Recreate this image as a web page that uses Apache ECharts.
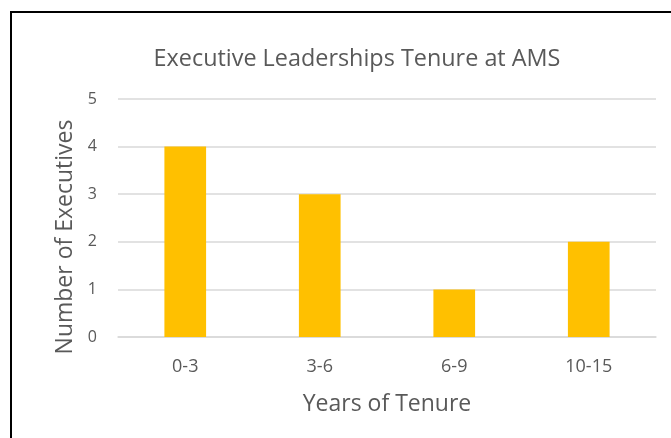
<!DOCTYPE html>
<html><head><meta charset="utf-8">
<script src="https://cdn.jsdelivr.net/npm/echarts@6/dist/echarts.min.js"></script>
<style>html,body{margin:0;padding:0;background:#fff}#c{width:671px;height:438px}</style>
</head><body><div id="c"></div>
<script>
const categories = ['0-3', '3-6', '6-9', '10-15'];
const executives = [4, 3, 1, 2];
const chart = echarts.init(document.getElementById('c'));
const font = 'Open Sans';
chart.setOption({
  animation: false,
  title: {
    text: 'Executive Leaderships Tenure at AMS',
    left: 352, top: 43, textAlign: 'center',
    textStyle: {fontFamily: font, fontSize: 23.4, fontWeight: 'normal', color: '#595959'}
  },
  graphic: [{
    type: 'rect', silent: true, z: 100,
    shape: {x: 11, y: 12, width: 720, height: 500},
    style: {fill: 'none', stroke: '#000', lineWidth: 2}
  }],
  grid: {left: 118, right: 15, top: 99, bottom: 101, containLabel: false},
  xAxis: {
    type: 'category', data: categories,
    name: 'Years of Tenure', nameLocation: 'middle', nameGap: 56,
    nameTextStyle: {fontFamily: font, fontSize: 23, color: '#595959'},
    axisLine: {show: true, lineStyle: {color: '#d9d9d9', width: 1.5}},
    axisTick: {show: false},
    axisLabel: {fontFamily: font, fontSize: 18, color: '#595959', margin: 21}
  },
  yAxis: {
    type: 'value', min: 0, max: 5, interval: 1,
    name: 'Number of Executives', nameLocation: 'middle', nameGap: 39,
    nameTextStyle: {fontFamily: font, fontSize: 23, color: '#595959', padding: [0, 38, 0, 0]},
    axisLine: {show: false}, axisTick: {show: false},
    axisLabel: {fontFamily: font, fontSize: 16, color: '#595959', margin: 21},
    splitLine: {lineStyle: {color: '#d9d9d9', width: 1.5}}
  },
  series: [{
    type: 'bar', data: executives, barWidth: '31%',
    itemStyle: {color: '#FFC000'}
  }]
});
</script></body></html>
